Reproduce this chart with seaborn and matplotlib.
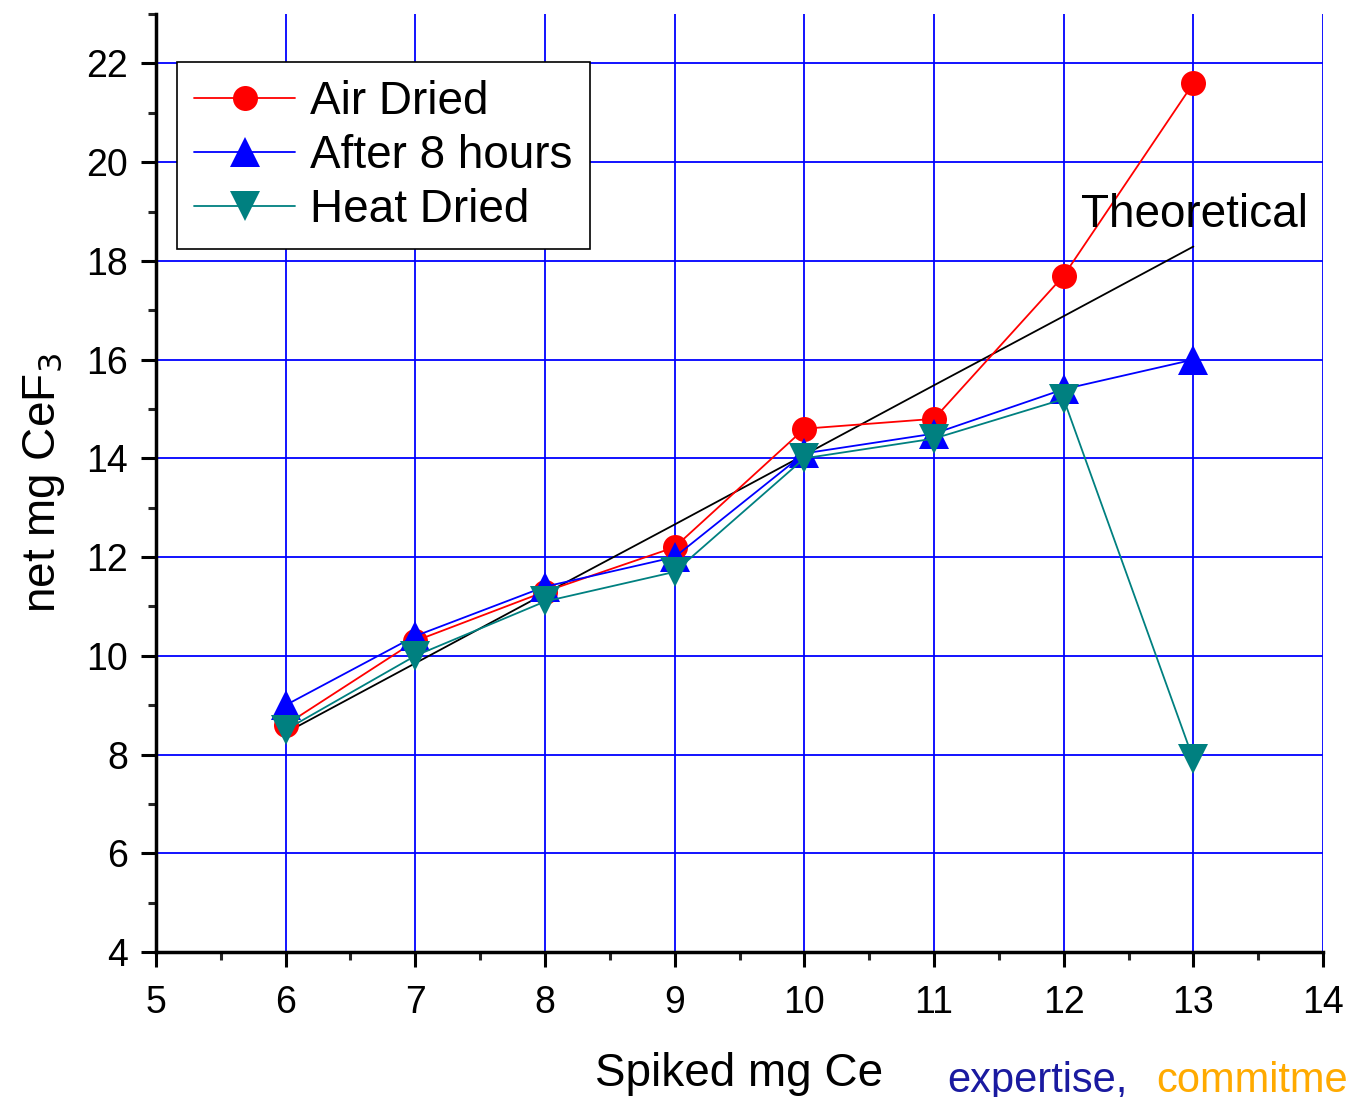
import pandas as pd
import matplotlib.pyplot as plt
import seaborn as sns
from matplotlib.ticker import MultipleLocator

# data
spiked = [6, 7, 8, 9, 10, 11, 12, 13]
air_dried = [8.6, 10.3, 11.3, 12.2, 14.6, 14.8, 17.7, 21.6]
after_8h = [9.0, 10.4, 11.4, 12.0, 14.1, 14.5, 15.4, 16.0]
heat_dried = [8.5, 10.0, 11.1, 11.7, 14.0, 14.4, 15.2, 7.9]
theoretical = [8.44, 9.85, 11.26, 12.66, 14.07, 15.48, 16.88, 18.29]

df = pd.DataFrame({'Spiked': spiked, 'Air Dried': air_dried,
                   'After 8 hours': after_8h, 'Heat Dried': heat_dried,
                   'Theoretical': theoretical})

sns.set_style('ticks')
plt.rcParams['font.family'] = ['Liberation Sans', 'DejaVu Sans']
plt.rcParams['text.color'] = 'black'
plt.rcParams['axes.labelcolor'] = 'black'

fig = plt.figure(figsize=(13.48, 10.97), dpi=100)
ax = fig.add_axes([0.1157, 0.1322, 0.8658, 0.855])

sns.lineplot(data=df, x='Spiked', y='Theoretical', color='black', lw=1.3, ax=ax, zorder=3)
sns.lineplot(data=df, x='Spiked', y='Air Dried', color='red', marker='o', ms=18,
             markeredgewidth=0, lw=1.3, label='Air Dried', ax=ax, zorder=4)
sns.lineplot(data=df, x='Spiked', y='After 8 hours', color='blue', marker='^', ms=22,
             markeredgewidth=0, lw=1.3, label='After 8 hours', ax=ax, zorder=4)
sns.lineplot(data=df, x='Spiked', y='Heat Dried', color='#008080', marker='v', ms=22,
             markeredgewidth=0, lw=1.3, label='Heat Dried', ax=ax, zorder=4)

ax.text(12.13, 18.68, 'Theoretical', fontsize=33, ha='left', va='baseline', zorder=5)

ax.set_xlim(5, 14)
ax.set_ylim(4, 23)
ax.xaxis.set_major_locator(MultipleLocator(1))
ax.xaxis.set_minor_locator(MultipleLocator(0.5))
ax.yaxis.set_major_locator(MultipleLocator(2))
ax.yaxis.set_minor_locator(MultipleLocator(1))
ax.grid(True, which='major', color='blue', lw=1.3)
ax.set_axisbelow(True)

for side in ['top', 'right']:
    ax.spines[side].set_visible(False)
for side in ['left', 'bottom']:
    ax.spines[side].set_linewidth(2.5)
    ax.spines[side].set_color('black')
ax.tick_params(axis='x', which='major', pad=13)
ax.tick_params(axis='y', which='major', pad=9)
ax.tick_params(which='major', direction='out', length=11, width=2.2, labelsize=27,
               colors='black')
ax.tick_params(which='minor', direction='out', length=6, width=2.2)

ax.set_xlabel('Spiked mg Ce', fontsize=33, labelpad=22)
ax.set_ylabel('net mg CeF$_3$', fontsize=33, labelpad=14)

leg = ax.legend(loc='upper left', bbox_to_anchor=(0.018, 0.9485), fontsize=33,
                handlelength=2.2, borderaxespad=0, frameon=True, fancybox=False,
                borderpad=0.38, labelspacing=0.22, handletextpad=0.33)
leg.get_frame().set_edgecolor('black')
leg.get_frame().set_linewidth(1.2)
leg.get_frame().set_alpha(1)

# logo strip at the bottom edge, cut off as in the original
fig.text(0.703, 0.005, 'expertise,', color='#1a1aa0', fontsize=30, ha='left', va='baseline')
fig.text(0.858, 0.005, 'commitment', color='#ffaa00', fontsize=30, ha='left', va='baseline')

plt.savefig('out.png', dpi=100)
plt.close()
